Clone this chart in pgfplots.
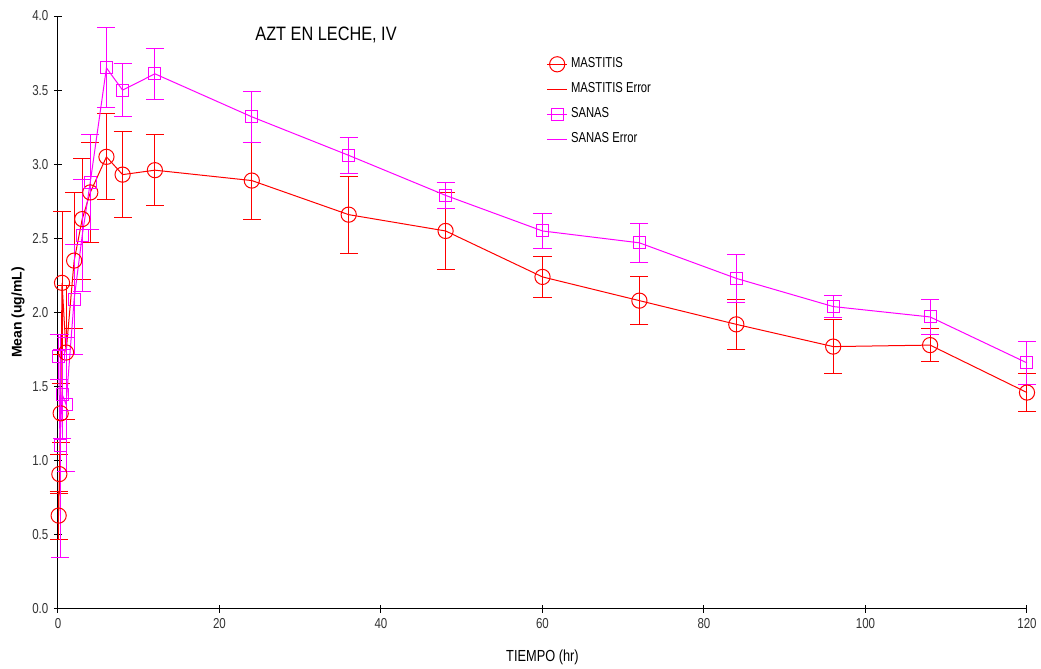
\documentclass[border=0pt]{standalone}
\usepackage{pgfplots}
\pgfplotsset{compat=1.18}
\usepackage{pgfplotstable}
\usepackage{fontspec}
\setmainfont{Liberation Sans}
\definecolor{mred}{HTML}{FF0000}
\definecolor{mmag}{HTML}{FF00FF}
\pgfplotstableread{
t y e
0.083 0.63 0.16
0.167 0.91 0.13
0.333 1.32 0.20
0.5 2.20 0.48
1 1.73 0.45
2 2.35 0.46
3 2.63 0.41
4 2.81 0.34
6 3.05 0.29
8 2.93 0.29
12 2.96 0.24
24 2.89 0.26
36 2.66 0.26
48 2.55 0.26
60 2.24 0.14
72 2.08 0.16
84 1.92 0.17
96 1.77 0.18
108 1.78 0.11
120 1.46 0.13
}\mastitis
\pgfplotstableread{
t y e
0.083 1.70 0.15
0.25 1.10 0.75
0.5 1.45 0.30
1 1.38 0.45
2 2.09 0.37
3 2.52 0.38
4 2.88 0.32
6 3.65 0.27
8 3.50 0.18
12 3.61 0.17
24 3.32 0.17
36 3.06 0.12
48 2.79 0.09
60 2.55 0.115
72 2.47 0.13
84 2.23 0.16
96 2.04 0.075
108 1.97 0.12
120 1.66 0.145
}\sanas
\begin{document}
\begin{tikzpicture}
\useasboundingbox (-29pt,-30pt) rectangle (491.5pt,304.5pt);
\begin{axis}[
  at={(0pt,0pt)}, anchor=south west,
  scale only axis, width=484.5pt, height=296.5pt,
  xmin=0, xmax=120, ymin=0, ymax=4,
  axis x line*=bottom, axis y line*=left,
  axis line style={black, line width=0.5pt},
  xtick={0,20,...,120}, ytick={0,0.5,...,4},
  tick align=center, major tick length=4pt,
  tick style={black, line width=0.5pt},
  /pgf/number format/assume math mode=true,
  yticklabel style={/pgf/number format/.cd, fixed, fixed zerofill, precision=1},
  ticklabel style={font=\fontsize{7.2}{8}\selectfont, text=black!80, xscale=0.8},
  xticklabel style={yshift=1pt},
  xlabel={TIEMPO (hr)},
  ylabel={\bfseries Mean (ug/mL)},
  label style={font=\fontsize{7}{8}\selectfont},
  xlabel style={at={(axis description cs:0.5,-0.081)}, anchor=center, font=\fontsize{8}{9}\selectfont, xscale=0.8},
  ylabel style={at={(axis description cs:-0.0413,0.5)}, anchor=center},
  title={AZT EN LECHE, IV},
  title style={at={(axis description cs:0.2766,0.971)}, anchor=center, yshift=-7pt, font=\fontsize{9.7}{11}\selectfont, xscale=0.84},
  clip=false,
  legend style={draw=none, fill=none, at={(axis description cs:0.5036,0.937)}, anchor=north west,
    font=\fontsize{7.2}{8}\selectfont, row sep=2pt, inner sep=0pt,
    nodes={xscale=0.78}},
  legend cell align=left,
  legend image code/.code={\draw[mark repeat=2,mark phase=2,#1] plot coordinates {(0pt,0pt) (5pt,0pt) (10pt,0pt)};},
  error bars/error bar style={line width=0.5pt},
  error bars/error mark options={rotate=90, mark size=4.5pt, line width=0.5pt},
]
\addplot[mred, line width=0.5pt, mark=o, mark size=3.8pt, mark options={solid, line width=0.5pt},
  error bars/.cd, y dir=both, y explicit]
  table[x=t, y=y, y error=e]{\mastitis};
\addlegendentry{MASTITIS}
\addlegendimage{mred, line width=0.8pt}
\addlegendentry{MASTITIS Error}
\addplot[mmag, line width=0.5pt, mark=square, mark size=3pt, mark options={solid, line width=0.5pt},
  error bars/.cd, y dir=both, y explicit]
  table[x=t, y=y, y error=e]{\sanas};
\addlegendentry{SANAS}
\addlegendimage{mmag, line width=0.8pt}
\addlegendentry{SANAS Error}
\end{axis}
\end{tikzpicture}
\end{document}
